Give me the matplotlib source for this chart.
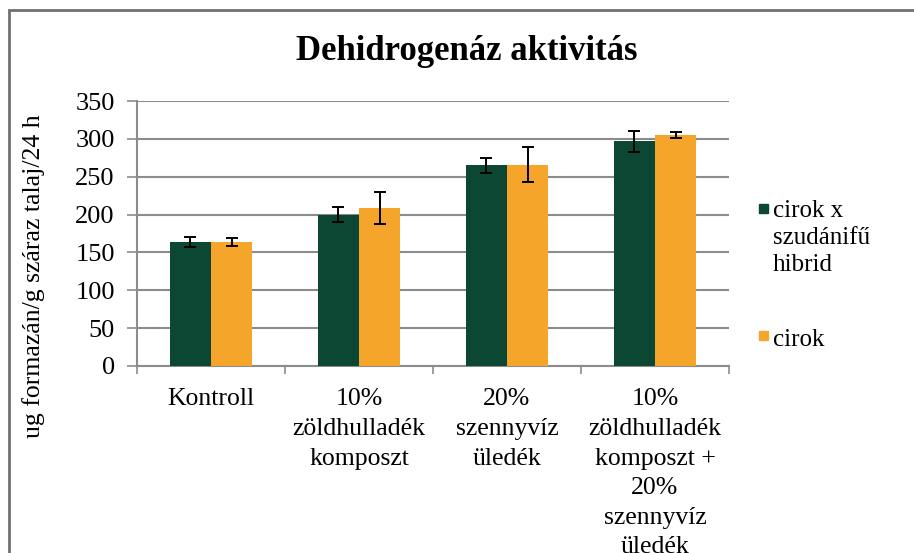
import matplotlib.pyplot as plt
import numpy as np
from matplotlib.patches import Rectangle

# Data
categories = ["Kontroll",
              "10%\nzöldhulladék\nkomposzt",
              "20%\nszennyvíz\nüledék",
              "10%\nzöldhulladék\nkomposzt +\n20%\nszennyvíz\nüledék"]
series_names = ["cirok x\nszudánifű\nhibrid", "cirok"]
hibrid = [164, 200, 265, 297]
hibrid_err = [7, 10, 10, 14]
cirok = [164, 209, 266, 305]
cirok_err = [5, 21, 23, 4]
yticks = [0, 50, 100, 150, 200, 250, 300, 350]

colors = ["#0b4733", "#f5a52a"]
grid_col = "#8c8c8c"
serif = ["Liberation Serif", "DejaVu Serif"]

plt.rcParams['font.family'] = serif

W, H = 914, 553
fig = plt.figure(figsize=(W / 100, H / 100), dpi=100)
ax = fig.add_axes([137 / W, 1 - 366 / H, 592 / W, 265 / H])

x = np.arange(len(categories))
bw = 0.28
ekw = dict(ecolor="black", elinewidth=1.4, capsize=4, capthick=1.4)
ax.bar(x - bw / 2, hibrid, bw, color=colors[0], yerr=hibrid_err,
       error_kw=ekw, zorder=3)
ax.bar(x + bw / 2, cirok, bw, color=colors[1], yerr=cirok_err,
       error_kw=ekw, zorder=3)

ax.set_xlim(-0.5, len(categories) - 0.5)
ax.set_ylim(0, 350)
ax.set_yticks(yticks)
ax.yaxis.grid(True, color=grid_col, linewidth=1.5, zorder=0)
ax.set_axisbelow(True)

ax.set_xticks(x)
ax.set_xticklabels(categories, fontsize=18.5, linespacing=1.45)
ax.set_xticks(np.arange(len(categories) + 1) - 0.5, minor=True)
ax.tick_params(axis="x", which="major", length=0, pad=16)
ax.tick_params(axis="x", which="minor", length=6, width=1.2, color=grid_col,
               direction="out")
ax.tick_params(axis="y", length=7, width=1.2, color=grid_col, pad=9,
               labelsize=19)

for s in ["top", "right"]:
    ax.spines[s].set_visible(False)
for s in ["left", "bottom"]:
    ax.spines[s].set_color(grid_col)
    ax.spines[s].set_linewidth(1.5)

ax.set_ylabel("ug formazán/g száraz talaj/24 h", fontsize=18.5)
ax.yaxis.set_label_coords(-(137 - 45) / 592, (366 - 276) / 265)

fig.text(467 / W, 1 - 52 / H, "Dehidrogenáz aktivitás", ha="center",
         va="center", fontsize=25, fontweight="bold")

# legend drawn by hand: (marker top, text top) in pixels
leg_pos = [(204, 200), (331, 329)]
for name, col, (mt, tt) in zip(series_names, colors, leg_pos):
    fig.add_artist(Rectangle((759 / W, 1 - (mt + 9) / H), 9 / W, 9 / H,
                             transform=fig.transFigure, color=col))
    fig.text(773 / W, 1 - tt / H, name, ha="left", va="top",
             fontsize=18, linespacing=1.3)

# outer chart frame
fig.add_artist(Rectangle((9 / W, -0.05), 1.0, 1 - 10 / H + 0.05,
                         transform=fig.transFigure, fill=False,
                         edgecolor="#707070", linewidth=2))

fig.savefig("out.png", dpi=100)
